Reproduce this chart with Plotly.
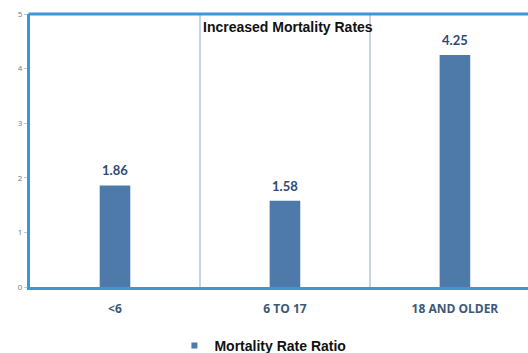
import plotly.graph_objects as go

# Mortality rate ratio by age group
age_groups = ["<6", "6 TO 17", "18 AND OLDER"]
rate_ratio = [1.86, 1.58, 4.25]
y_ticks = [0, 1, 2, 3, 4, 5]
series_name = "Mortality Rate Ratio"
chart_title = "Increased Mortality Rates"

BAR = "#4d7aa9"
FRAME = "#3a97d8"
DIVIDER = "#c3d4e6"
LABEL = "#2f4b73"
NARROW = "Liberation Sans Narrow, Arial Narrow, Liberation Sans, Arial, sans-serif"
X_RANGE = [-0.5, 2.43]

fig = go.Figure()
fig.add_trace(go.Bar(
    x=age_groups,
    y=rate_ratio,
    name=series_name,
    width=0.18,
    marker=dict(color=BAR, line=dict(width=0)),
    showlegend=False,
))
# small square key for the legend
fig.add_trace(go.Scatter(
    x=[None], y=[None], mode="markers", name=series_name,
    marker=dict(symbol="square", size=6, color=BAR),
    showlegend=True,
))

# value labels above each bar
for cat, val in zip(age_groups, rate_ratio):
    fig.add_annotation(
        x=cat, y=val, xref="x", yref="y",
        text=f"{val:.2f}", showarrow=False,
        yanchor="bottom", yshift=5,
        font=dict(family="Lato, Open Sans, sans-serif", size=13, color=LABEL, weight="bold"),
    )

fig.add_annotation(
    x=0.5, y=1, xref="x", yref="paper",
    text=chart_title, showarrow=False,
    xanchor="left", yanchor="top", xshift=1, yshift=-3,
    font=dict(family=NARROW, size=14, color="#111111", weight="bold"),
)

# top frame line across the plot area
fig.add_shape(
    type="line", xref="paper", yref="paper",
    x0=-0.003, x1=1, y0=1, y1=1,
    line=dict(color=FRAME, width=3), layer="above",
)

fig.update_layout(
    width=528, height=353,
    margin=dict(l=30, r=0, t=14, b=66, autoexpand=False),
    paper_bgcolor="white",
    plot_bgcolor="white",
    showlegend=True,
    legend=dict(
        orientation="h",
        x=0.29, xanchor="left",
        y=-0.216, yanchor="middle",
        font=dict(family=NARROW, size=14, color="#111111", weight="bold"),
        bgcolor="rgba(0,0,0,0)",
    ),
    xaxis=dict(
        type="category",
        range=X_RANGE,
        showline=True, linecolor=FRAME, linewidth=3, mirror=False,
        showgrid=True, gridcolor=DIVIDER, gridwidth=1.5,
        tickson="boundaries", ticks="", ticklabelstandoff=9,
        tickfont=dict(family="Open Sans, sans-serif", size=12, color="#3d5878", weight="bold"),
        fixedrange=True,
    ),
    yaxis=dict(
        range=[0, 5],
        tickvals=y_ticks,
        showline=True, linecolor=FRAME, linewidth=3,
        showgrid=False, zeroline=False,
        ticks="outside", ticklen=3, tickcolor="#b3cde6",
        tickfont=dict(family="Open Sans, sans-serif", size=8, color="#6b7b8c"),
        fixedrange=True,
    ),
)

fig.write_html("out.html")
